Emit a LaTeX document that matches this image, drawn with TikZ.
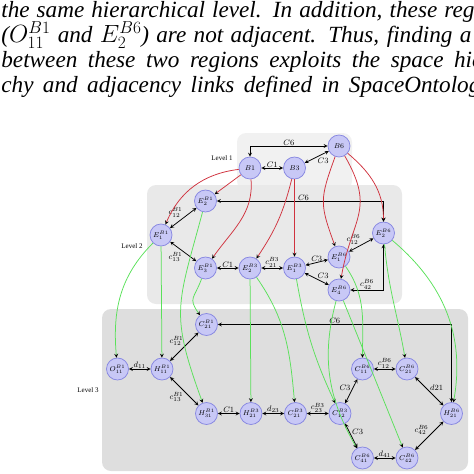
\documentclass[tikz,border=0pt]{standalone}
\usepackage{fontspec}
\setmainfont{Liberation Serif}
\usepackage[dvipsnames]{xcolor}

\definecolor{nodefill}{RGB}{200,200,246}
\definecolor{nodeline}{RGB}{135,135,225}
\definecolor{downred}{RGB}{208,50,62}
\definecolor{downgreen}{RGB}{90,225,90}
\definecolor{lvlone}{RGB}{241,241,241}
\definecolor{lvltwo}{RGB}{233,233,233}
\definecolor{lvlthree}{RGB}{222,222,222}

\begin{document}
\begin{tikzpicture}[x=1pt,y=1pt,>=stealth,node distance=44.5pt,line width=0.75pt,
  region node/.style={circle,draw=nodeline,fill=nodefill,minimum size=22pt,inner sep=0pt,font=\scriptsize},
  level box/.style={rounded corners=9pt},
  level name/.style={font=\scriptsize},
  lbl/.style={font=\footnotesize,inner sep=0.5pt},
  para/.style={anchor=base west,inner sep=0pt,font=\fontsize{23.2}{25}\selectfont\itshape},
  red link/.style={->,draw=downred},
  green link/.style={->,draw=downgreen}]
            \useasboundingbox (0,0) rectangle (474,-474);
            \clip (0,0) rectangle (474,-474);

            \node[para] (txt1) at (1,-17.2) {\makebox[473pt][s]{the same hierarchical level. In addition, these reg}};
            \node[para] (txt2) at (1,-42.2) {\makebox[470pt][s]{(\(O_{11}^{B1}\) and \(E_2^{B6}\)) are not adjacent. Thus, finding a}};
            \node[para] (txt3) at (1,-67.2) {\makebox[481pt][s]{between these two regions exploits the space hie}};
            \node[para] (txt4) at (1,-92.2) {\makebox[479pt][s]{chy and adjacency links defined in SpaceOntolog}};

            \fill[lvlone,level box] (237,-133) rectangle (352,-190);
            \fill[lvltwo,level box] (147,-185) rectangle (402,-304);
            \fill[lvlthree,level box] (102,-309) rectangle (468,-471);

            \node[level name] (lvl1) at (222,-158) {Level 1};
            \node[level name] (lvl2) at (132,-246) {Level 2};
            \node[level name] (lvl3) at (88,-390) {Level 3};

            \node[region node] (b1) at (250,-168) {$B1$};
            \node[region node] (b3) [right of = b1] {$B3$};
            \node[region node] (b6) [right of = b3, yshift=22pt] {$B6$};

            \node[region node] (e1b1) at (161,-235) {$E_1^{B1}$};
            \node[region node] (e2b1) [right of = e1b1, yshift=34pt] {$E_2^{B1}$};
            \node[region node] (e3b1) [right of = e1b1, yshift=-33pt] {$E_3^{B1}$};
            \node[region node] (e2b3) [right of = e3b1] {$E_2^{B3}$};
            \node[region node] (e1b3) [right of = e2b3] {$E_1^{B3}$};
            \node[region node] (e1b6) [right of = e1b3, yshift=11pt] {$E_1^{B6}$};
            \node[region node] (e4b6) [right of = e1b3, yshift=-22pt] {$E_4^{B6}$};
            \node[region node] (e2b6) [right of = e1b6, yshift=24pt] {$E_2^{B6}$};

            \node[region node] (h11b1) at (162,-369) {$H_{11}^{B1}$};
            \node[region node] (o11b1) [left of = h11b1] {$O_{11}^{B1}$};
            \node[region node] (c21b1) [right of = h11b1, yshift=44.5pt] {$C_{21}^{B1}$};
            \node[region node] (h31b1) [right of = h11b1, yshift=-44.5pt] {$H_{31}^{B1}$};
            \node[region node] (h21b3) [right of = h31b1] {$H_{21}^{B3}$};
            \node[region node] (c21b3) [right of = h21b3] {$C_{21}^{B3}$};
            \node[region node] (c12b3) [right of = c21b3] {$C_{12}^{B3}$};
            \node[region node] (c11b6) [right of = c12b3, xshift=-22pt, yshift=44.5pt] {$C_{11}^{B6}$};
            \node[region node] (c21b6) [right of = c11b6] {$C_{21}^{B6}$};
            \node[region node] (h21b6) [right of = c21b6, yshift=-44.5pt] {$H_{21}^{B6}$};
            \node[region node] (c41b6) [below of = c11b6, yshift=-44.5pt] {$C_{41}^{B6}$};
            \node[region node] (c42b6) [right of = c41b6] {$C_{42}^{B6}$};

            \path[<->,every node/.style={lbl}]
                (b1) edge node[above] {$C1$} (b3)
                (b3) edge node[below right] {$C3$} (b6)
                (e1b1) edge node[above left] {$c_{12}^{B1}$} (e2b1)
                (e1b1) edge node[below left] {$c_{13}^{B1}$} (e3b1)
                (e3b1) edge node[above] {$C1$} (e2b3)
                (e2b3) edge node[above] {$c_{21}^{B3}$} (e1b3)
                (e1b3) edge node[above] {$C3$} (e1b6)
                (e1b3) edge node[above right] {$C3$} (e4b6)
                (e1b6) edge node[above left] {$c_{12}^{B6}$} (e2b6)
                (o11b1) edge node[above] {$d_{11}$} (h11b1)
                (h11b1) edge node[above left] {$c_{12}^{B1}$} (c21b1)
                (h11b1) edge node[below left] {$c_{13}^{B1}$} (h31b1)
                (h31b1) edge node[above] {$C1$} (h21b3)
                (h21b3) edge node[above] {$d_{23}$} (c21b3)
                (c21b3) edge node[above] {$c_{23}^{B3}$} (c12b3)
                (c12b3) edge node[above left] {$C3$} (c11b6)
                (c12b3) edge node[above right] {$C3$} (c41b6)
                (c11b6) edge node[above] {$c_{12}^{B6}$} (c21b6)
                (c21b6) edge node[above right] {$d21$} (h21b6)
                (h21b6) edge node[above left] {$c_{42}^{B6}$} (c42b6)
                (c41b6) edge node[above] {$d_{41}$} (c42b6)
                ;
            \draw[<->] (b1) |- node[lbl,above,pos=0.75] {$C6$} (b6);
            \draw[<->] (e2b1) -| node[lbl,above,pos=0.26] {$C6$} (e2b6);
            \draw[<->] (e4b6) -| node[lbl,above,pos=0.25] {$c_{42}^{B6}$} (e2b6);
            \draw[<->] (c21b1) -| node[lbl,above,pos=0.25] {$C6$} (h21b6);

            \path[red link]
                (b1) edge[bend right=30] (e1b1)
                (b1) edge (e2b1)
                (b1) edge[out=-85,in=55] (e3b1)
                (b3) edge[bend left=10] (e2b3)
                (b3) edge (e1b3)
                (b6) edge[out=250,in=110,looseness=1.3] (e1b6)
                (b6) edge[out=-60,in=80,looseness=1.3] (e4b6)
                (b6) edge[out=-40,in=90] (e2b6)
                ;
            \path[green link]
                (e1b1) edge[out=225,in=95] (o11b1)
                (e1b1) edge (h11b1)
                (e2b1) edge[out=255,in=110,looseness=1.3] (h31b1)
                (e3b1) edge[out=250,in=125,looseness=1.5] (c21b1)
                (e2b3) edge (h21b3)
                (e2b3) edge[out=-55,in=95] (c21b3)
                (e1b3) edge[out=-80,in=115] (c12b3)
                (e4b6) edge[out=-105,in=120] (c41b6)
                (e4b6) edge (c42b6)
                (e1b6) edge[out=-55,in=90] (c11b6)
                (e2b6) edge[out=-85,in=100] (c21b6)
                (e2b6) edge[out=-40,in=80] (h21b6)
                ;
        \end{tikzpicture}
\end{document}
